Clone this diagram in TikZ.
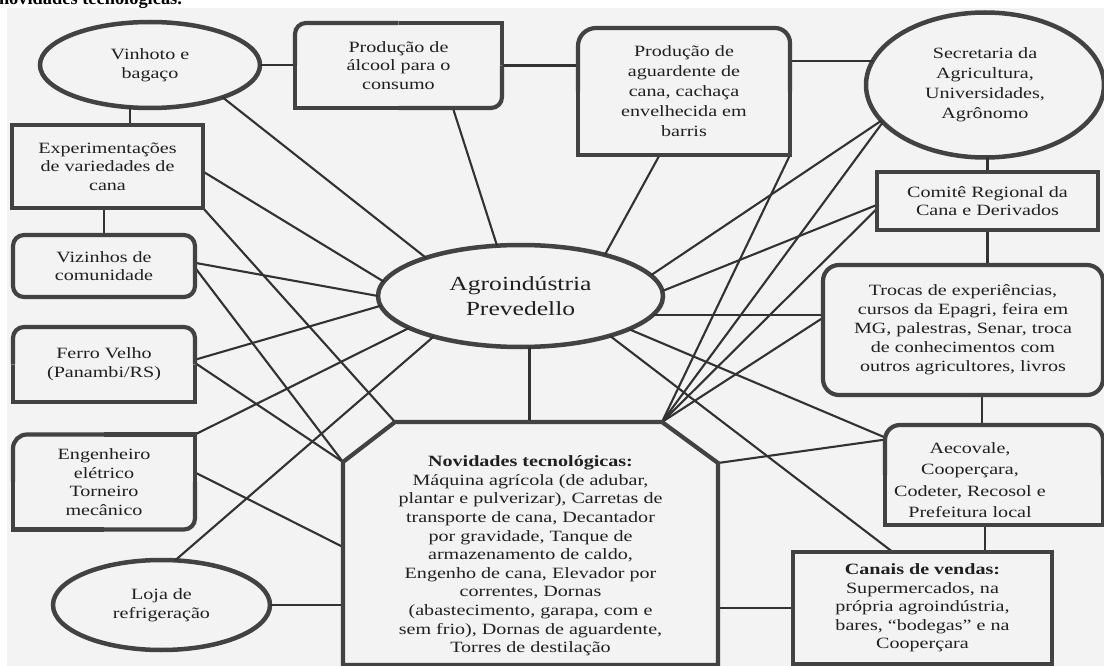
\documentclass[tikz,border=0pt]{standalone}
\usepackage{fontspec}
\setmainfont{Liberation Serif}[FakeStretch=1.28]
\newfontfamily\hdrfont{Liberation Serif}
\usetikzlibrary{shapes.geometric,calc}
\definecolor{bgcol}{RGB}{243,243,243}
\definecolor{lncol}{RGB}{50,50,50}
\definecolor{bdcol}{RGB}{66,66,66}
\definecolor{txcol}{RGB}{32,32,32}
\tikzset{
  lbl/.style={font=\fontsize{15.7}{18.6}\selectfont, text=txcol, align=center, inner sep=0pt, outer sep=0pt},
  ovalnode/.style={lbl, ellipse, draw=bdcol, line width=4.5pt},
  bxline/.style={draw=bdcol, line width=4.2pt},
  conn/.style={draw=lncol, line width=2.1pt},
}
\newcommand{\boxoutline}[5]{%
  \draw[bxline, #2] (#1.west) -- (#1.north west) -- (#1.north);
  \draw[bxline, #3] (#1.north) -- (#1.north east) -- (#1.east);
  \draw[bxline, #4] (#1.east) -- (#1.south east) -- (#1.south);
  \draw[bxline, #5] (#1.south) -- (#1.south west) -- (#1.west);
}
\begin{document}
\begin{tikzpicture}[x=1pt,y=-1pt]
\useasboundingbox (0,0) rectangle (1104,666);
\fill[white] (0,0) rectangle (1104,666);
\fill[bgcol] (7,8) rectangle (1104,666);
\node[lbl, anchor=base west, font=\hdrfont\bfseries\fontsize{18.4}{21}\selectfont, text=black] (hdr) at (-1,5) {novidades tecnológicas.};

% nodes
\node[ovalnode, minimum width=220pt, minimum height=86pt] (vin) at (150,65) {Vinhoto e\\bagaço};
\node[lbl, minimum width=207pt, minimum height=85pt] (alc) at (398.5,65.5) {Produção de\\álcool para o\\consumo};
\node[lbl, font=\fontsize{15.7}{20}\selectfont, minimum width=212pt, minimum height=127pt] (agu) at (684,91.5) {Produção de\\aguardente de\\cana, cachaça\\envelhecida em\\barris};
\node[ovalnode, font=\fontsize{15.7}{20}\selectfont, minimum width=238pt, minimum height=145pt] (sec) at (985,85) {Secretaria da\\Agricultura,\\Universidades,\\Agrônomo};
\node[lbl, minimum width=221pt, minimum height=58pt] (com) at (987.5,201) {Comitê Regional da\\Cana e Derivados};
\node[lbl, minimum width=191pt, minimum height=83pt] (exp) at (107.5,166.5) {Experimentações\\de variedades de\\cana};
\node[lbl, minimum width=182pt, minimum height=62pt] (viz) at (104,266) {Vizinhos de\\comunidade};
\node[lbl, minimum width=182pt, minimum height=75pt] (fer) at (104,364.5) {Ferro Velho\\(Panambi/RS)};
\node[lbl, minimum width=182pt, minimum height=95pt] (eng) at (104,482) {Engenheiro\\elétrico\\Torneiro\\mecânico};
\node[ovalnode, minimum width=217pt, minimum height=90pt] (loja) at (161.5,605) {Loja de\\refrigeração};
\node[ovalnode, font=\fontsize{20}{25}\selectfont, minimum width=285pt, minimum height=102pt] (agro) at (520.5,296) {Agroindústria\\Prevedello};
\node[lbl] (nov) at (530.5,556) {\textbf{Novidades tecnológicas:}\\Máquina agrícola (de adubar,\\plantar e pulverizar), Carretas de\\transporte de cana, Decantador\\por gravidade, Tanque de\\armazenamento de caldo,\\Engenho de cana, Elevador por\\correntes, Dornas\\(abastecimento, garapa, com e\\sem frio), Dornas de aguardente,\\Torres de destilação};
\node[lbl, font=\fontsize{15.7}{19}\selectfont, minimum width=280pt, minimum height=130pt] (tro) at (963,330) {Trocas de experiências,\\cursos da Epagri, feira em\\MG, palestras, Senar, troca\\de conhecimentos com\\outros agricultores, livros};
\node[lbl, minimum width=218pt, minimum height=100pt] (aec) at (994,475) {};
\node[lbl, font=\fontsize{15.7}{21.5}\selectfont] (aectxt) at (970,480) {Aecovale,\\Cooperçara,\\Codeter, Recosol e\\Prefeitura local};
\node[lbl, minimum width=259pt, minimum height=112pt] (can) at (922.5,608) {\textbf{Canais de vendas:}\\Supermercados, na\\própria agroindústria,\\bares, “bodegas” e na\\Cooperçara};

% octagon corners of Novidades
\coordinate (nTL) at (395,422);
\coordinate (nTR) at (662,422);
\coordinate (nRT) at (718,463);
\coordinate (nRB) at (718,665);
\coordinate (nLB) at (343,665);
\coordinate (nLT) at (343,462);
\coordinate (nL2) at (343,547);

% straight chain connectors
\draw[conn] (vin.east) -- (vin.east -| alc.west);
\draw[conn] (alc.east) -- (alc.east -| agu.west);
\draw[conn] (sec.168) -- (sec.168 -| agu.east);
\draw[conn] (vin.245) -- (vin.245 |- exp.north);
\draw[conn] (viz.north) -- (viz.north |- exp.south);
\draw[conn] (com.north) -- (com.north |- sec.south);
\draw[conn] (com.south) -- (com.south |- tro.north);
\draw[conn] ([xshift=-12pt]aec.north) -- ([xshift=-12pt]aec.north |- tro.south);
\draw[conn] ([xshift=-9pt]aec.south) -- ([xshift=-9pt]aec.south |- can.north);
\draw[conn] (loja.east) -- (loja.east -| nLT);
\draw[conn] (agro.280) -- (agro.280 |- nTL);
\draw[conn] (can.west) -- (can.west -| nRT);
\draw[conn] (aec.162) -- (nRT);

% Agroindustria fan
\draw[conn] (agro.158) -- (vin.-24);
\draw[conn] (agro.115) -- (alc.-38);
\draw[conn] (agro.26) -- (agu.249);
\draw[conn] (agro.9) -- (sec.199);
\draw[conn] (agro.2) -- (com.182);
\draw[conn] (agro.-8) -- (agro.-8 -| tro.west);
\draw[conn] (agro.-17) -- (aec.161);
\draw[conn] (agro.-24) -- (can.118);
\draw[conn] (agro.174) -- (exp.-3);
\draw[conn] (agro.180) -- (viz.2);
\draw[conn] (agro.184) -- (fer.3);
\draw[conn] (agro.196) -- (eng.north east);
\draw[conn] (agro.205) -- (loja.73);

% Novidades fan
\draw[conn] (exp.south east) -- (nTL);
\draw[conn] (viz.-1) -- (nLT);
\draw[conn] (fer.1) -- (nLT);
\draw[conn] (eng.6) -- (nL2);
\draw[conn] (agu.south east) -- (nTR);
\draw[conn] (sec.200) -- (nTR);
\draw[conn] (com.184) -- (nTR);
\draw[conn] (tro.175) -- (nTR);

% box outlines
\boxoutline{alc}{rounded corners=11pt}{sharp corners}{rounded corners=11pt}{sharp corners}
\boxoutline{agu}{rounded corners=18pt}{rounded corners=15pt}{sharp corners}{sharp corners}
\boxoutline{com}{sharp corners}{sharp corners}{sharp corners}{sharp corners}
\boxoutline{exp}{sharp corners}{sharp corners}{sharp corners}{sharp corners}
\boxoutline{viz}{rounded corners=11pt}{rounded corners=11pt}{rounded corners=11pt}{rounded corners=11pt}
\boxoutline{fer}{rounded corners=11pt}{rounded corners=11pt}{sharp corners}{sharp corners}
\boxoutline{eng}{rounded corners=14pt}{sharp corners}{rounded corners=11pt}{sharp corners}
\boxoutline{tro}{rounded corners=16pt}{rounded corners=16pt}{rounded corners=16pt}{rounded corners=16pt}
\boxoutline{aec}{rounded corners=15pt}{rounded corners=15pt}{sharp corners}{sharp corners}
\boxoutline{can}{sharp corners}{sharp corners}{sharp corners}{sharp corners}
\draw[bxline] (nTL) -- (nTR) -- (nRT) -- (nRB) -- (nLB) -- (nLT) -- cycle;
\end{tikzpicture}
\end{document}
